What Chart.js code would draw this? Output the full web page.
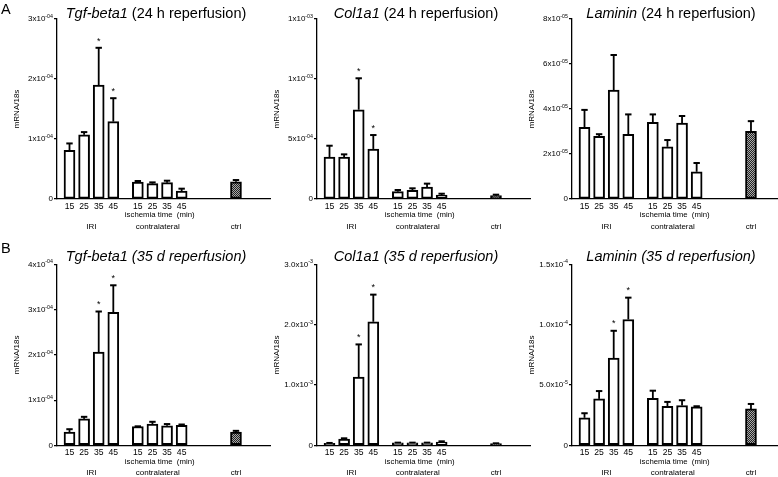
<!DOCTYPE html>
<html>
<head>
<meta charset="utf-8">
<script src="https://cdn.jsdelivr.net/npm/chart.js@4.4.1/dist/chart.umd.min.js"></script>
<style>
  html, body { margin: 0; padding: 0; background: #fff; overflow: hidden; }
  #wrap { position: relative; width: 778px; height: 477px; }
  canvas { position: absolute; }
</style>
</head>
<body>
<div id="wrap"></div>
<script>
const FONT = "'Liberation Sans', Arial, sans-serif";

const times = ["15", "25", "35", "45"];
const groupNames = ["IRI", "contralateral", "ctrl"];
const xTitle = "ischemia time  (min)";
const yTitle = "mRNA/18s";

// A: 24 h reperfusion (order: IRI 15-45, contralateral 15-45, ctrl)
const tgf24Mean = [0.81e-4, 1.07e-4, 1.90e-4, 1.29e-4, 0.283e-4, 0.255e-4, 0.272e-4, 0.133e-4, 0.288e-4];
const tgf24Sem = [0.116e-4, 0.045e-4, 0.62e-4, 0.39e-4, 0.017e-4, 0.022e-4, 0.033e-4, 0.039e-4, 0.028e-4];
const tgf24Sig = [0, 0, 1, 1, 0, 0, 0, 0, 0];
const tgf24Ticks = [0, 1e-4, 2e-4, 3e-4];
const tgf24TickLabels = [["0", ""], ["1x10", "-04"], ["2x10", "-04"], ["3x10", "-04"]];

const col24Mean = [0.35e-3, 0.35e-3, 0.744e-3, 0.417e-3, 0.061e-3, 0.072e-3, 0.10e-3, 0.033e-3, 0.028e-3];
const col24Sem = [0.094e-3, 0.022e-3, 0.262e-3, 0.116e-3, 0.014e-3, 0.017e-3, 0.028e-3, 0.011e-3, 0.008e-3];
const col24Sig = [0, 0, 1, 1, 0, 0, 0, 0, 0];
const col24Ticks = [0, 5e-4, 1e-3, 1.5e-3];
const col24TickLabels = [["0", ""], ["5x10", "-04"], ["1x10", "-03"], ["1x10", "-03"]];

const lam24Mean = [3.19e-5, 2.79e-5, 4.84e-5, 2.87e-5, 3.41e-5, 2.32e-5, 3.37e-5, 1.21e-5, 3.01e-5];
const lam24Sem = [0.77e-5, 0.09e-5, 1.56e-5, 0.89e-5, 0.35e-5, 0.30e-5, 0.32e-5, 0.39e-5, 0.45e-5];
const lam24Sig = [0, 0, 0, 0, 0, 0, 0, 0, 0];
const lam24Ticks = [0, 2e-5, 4e-5, 6e-5, 8e-5];
const lam24TickLabels = [["0", ""], ["2x10", "-05"], ["4x10", "-05"], ["6x10", "-05"], ["8x10", "-05"]];

// B: 35 d reperfusion
const tgf35Mean = [0.29e-4, 0.585e-4, 2.06e-4, 2.94e-4, 0.415e-4, 0.467e-4, 0.43e-4, 0.444e-4, 0.29e-4];
const tgf35Sem = [0.066e-4, 0.045e-4, 0.90e-4, 0.60e-4, 0.005e-4, 0.053e-4, 0.04e-4, 0.016e-4, 0.03e-4];
const tgf35Sig = [0, 0, 1, 1, 0, 0, 0, 0, 0];
const tgf35Ticks = [0, 1e-4, 2e-4, 3e-4, 4e-4];
const tgf35TickLabels = [["0", ""], ["1x10", "-04"], ["2x10", "-04"], ["3x10", "-04"], ["4x10", "-04"]];

const col35Mean = [0.033e-3, 0.105e-3, 1.133e-3, 2.05e-3, 0.039e-3, 0.039e-3, 0.039e-3, 0.055e-3, 0.028e-3];
const col35Sem = [0.006e-3, 0.011e-3, 0.541e-3, 0.45e-3, 0.005e-3, 0.005e-3, 0.005e-3, 0.011e-3, 0.005e-3];
const col35Sig = [0, 0, 1, 1, 0, 0, 0, 0, 0];
const col35Ticks = [0, 1e-3, 2e-3, 3e-3];
const col35TickLabels = [["0", ""], ["1.0x10", "-3"], ["2.0x10", "-3"], ["3.0x10", "-3"]];

const lam35Mean = [2.28e-5, 3.85e-5, 7.23e-5, 10.44e-5, 3.9e-5, 3.24e-5, 3.3e-5, 3.19e-5, 3.02e-5];
const lam35Sem = [0.38e-5, 0.65e-5, 2.27e-5, 1.81e-5, 0.63e-5, 0.36e-5, 0.44e-5, 0.05e-5, 0.41e-5];
const lam35Sig = [0, 0, 1, 1, 0, 0, 0, 0, 0];
const lam35Ticks = [0, 5e-5, 1e-4, 1.5e-4];
const lam35TickLabels = [["0", ""], ["5.0x10", "-5"], ["1.0x10", "-4"], ["1.5x10", "-4"]];

// layout
const colLeft = [0, 260, 515];
const rows = [
    { top: 0, h: 240, padTop: 19, zero: 199, titleY: 18, letterY: 13.5, letter: "A", rest: " (24 h reperfusion)", italicAll: false },
    { top: 240, h: 237, padTop: 24.5, zero: 205.3, titleY: 20.7, letterY: 12.7, letter: "B", rest: " (35 d reperfusion)", italicAll: true },
];
const groupStart = [0, 4.68, 11.4];
const xMin = -0.856, xMax = 13.73;

const panels = [
    { row: 0, col: 0, gene: "Tgf-beta1", mean: tgf24Mean, sem: tgf24Sem, sig: tgf24Sig, ticks: tgf24Ticks, tickLabels: tgf24TickLabels },
    { row: 0, col: 1, gene: "Col1a1", mean: col24Mean, sem: col24Sem, sig: col24Sig, ticks: col24Ticks, tickLabels: col24TickLabels },
    { row: 0, col: 2, gene: "Laminin", mean: lam24Mean, sem: lam24Sem, sig: lam24Sig, ticks: lam24Ticks, tickLabels: lam24TickLabels },
    { row: 1, col: 0, gene: "Tgf-beta1", mean: tgf35Mean, sem: tgf35Sem, sig: tgf35Sig, ticks: tgf35Ticks, tickLabels: tgf35TickLabels },
    { row: 1, col: 1, gene: "Col1a1", mean: col35Mean, sem: col35Sem, sig: col35Sig, ticks: col35Ticks, tickLabels: col35TickLabels },
    { row: 1, col: 2, gene: "Laminin", mean: lam35Mean, sem: lam35Sem, sig: lam35Sig, ticks: lam35Ticks, tickLabels: lam35TickLabels },
];

// checkered fill for ctrl bars
const pc = document.createElement("canvas");
pc.width = 2; pc.height = 2;
const pctx = pc.getContext("2d");
pctx.fillStyle = "#aaa"; pctx.fillRect(0, 0, 2, 2);
pctx.fillStyle = "#222"; pctx.fillRect(0, 0, 1, 1); pctx.fillRect(1, 1, 1, 1);
const hatch = pctx.createPattern(pc, "repeat");

function barPositions() {
    const pos = [];
    times.forEach((t, i) => pos.push(groupStart[0] + i));
    times.forEach((t, i) => pos.push(groupStart[1] + i));
    pos.push(groupStart[2]);
    return pos;
}

const decor = {
    id: "decor",
    afterDatasetsDraw(chart, args, o) {
        const { ctx, chartArea } = chart;
        const ys = chart.scales.y;
        const bars = chart.getDatasetMeta(0).data;
        const zero = ys.getPixelForValue(0);
        const row = rows[o.row];
        ctx.save();
        ctx.strokeStyle = "#000";
        ctx.fillStyle = "#000";

        // error bars + asterisks
        o.mean.forEach((m, i) => {
            const x = bars[i].x;
            const yTop = ys.getPixelForValue(m);
            const yErr = ys.getPixelForValue(m + o.sem[i]);
            ctx.lineWidth = 1.8;
            ctx.beginPath(); ctx.moveTo(x, yTop); ctx.lineTo(x, yErr); ctx.stroke();
            ctx.lineWidth = 2;
            ctx.beginPath(); ctx.moveTo(x - 3.2, yErr); ctx.lineTo(x + 3.2, yErr); ctx.stroke();
            if (o.sig[i]) {
                ctx.font = "9px " + FONT;
                ctx.textAlign = "center";
                ctx.textBaseline = "alphabetic";
                ctx.fillText("*", x, yErr - 4.3);
            }
        });

        // y tick labels with superscript exponent
        const right = chartArea.left - 4;
        o.ticks.forEach((v, i) => {
            const y = ys.getPixelForValue(v);
            const [base, sup] = o.tickLabels[i];
            ctx.font = "5.3px " + FONT;
            const sw = sup ? ctx.measureText(sup).width : 0;
            ctx.font = "8px " + FONT;
            const bw = ctx.measureText(base).width;
            ctx.textAlign = "left";
            ctx.textBaseline = "middle";
            ctx.fillText(base, right - sw - bw, y);
            if (sup) {
                ctx.font = "5.3px " + FONT;
                ctx.fillText(sup, right - sw, y - 2.6);
            }
        });

        // x tick labels and group labels
        ctx.textAlign = "center";
        ctx.textBaseline = "middle";
        ctx.font = "8.6px " + FONT;
        for (let i = 0; i < 8; i++) {
            ctx.fillText(times[i % 4], bars[i].x, zero + 7.3);
        }
        const c1 = (bars[0].x + bars[3].x) / 2;
        const c2 = (bars[4].x + bars[7].x) / 2;
        ctx.font = "7.8px " + FONT;
        ctx.fillText(xTitle, c2, zero + 16.3);
        ctx.font = "8px " + FONT;
        ctx.fillText(groupNames[0], c1, zero + 27.4);
        ctx.fillText(groupNames[1], c2 - 2, zero + 27.4);
        ctx.fillText(groupNames[2], bars[8].x, zero + 27.4);

        // y title
        ctx.save();
        ctx.translate(17, (chartArea.top + chartArea.bottom) / 2);
        ctx.rotate(-Math.PI / 2);
        ctx.font = "8px " + FONT;
        ctx.fillText(yTitle, 0, 0);
        ctx.restore();

        // panel title: italic gene name
        ctx.textBaseline = "alphabetic";
        ctx.textAlign = "left";
        const fi = "italic 14.5px " + FONT;
        const fr = (row.italicAll ? "italic " : "") + "14.5px " + FONT;
        ctx.font = fi;
        const gw = ctx.measureText(o.gene).width;
        ctx.font = fr;
        const rw = ctx.measureText(row.rest).width;
        const x0 = 156 - (gw + rw) / 2;
        ctx.font = fi;
        ctx.fillText(o.gene, x0, row.titleY);
        ctx.font = fr;
        ctx.fillText(row.rest, x0 + gw, row.titleY);

        // panel letter
        if (o.col === 0) {
            ctx.font = "14.5px " + FONT;
            ctx.fillText(row.letter, 1, row.letterY);
        }
        ctx.restore();
    },
};

const wrap = document.getElementById("wrap");
const positions = barPositions();

panels.forEach((p) => {
    const row = rows[p.row];
    const cv = document.createElement("canvas");
    cv.width = 272;
    cv.height = row.h;
    cv.style.left = colLeft[p.col] + "px";
    cv.style.top = row.top + "px";
    wrap.appendChild(cv);

    const colors = p.mean.map((v, i) => (i === 8 ? hatch : "#fff"));

    new Chart(cv.getContext("2d"), {
        type: "bar",
        data: {
            datasets: [
                {
                    data: p.mean.map((v, i) => ({ x: positions[i], y: v })),
                    backgroundColor: colors,
                    borderColor: "#000",
                    borderWidth: 2,
                    borderSkipped: false,
                    barThickness: 11,
                },
            ],
        },
        options: {
            responsive: false,
            animation: false,
            devicePixelRatio: 1,
            layout: { padding: { left: 0, top: row.padTop, right: 2, bottom: 0 } },
            plugins: {
                legend: { display: false },
                tooltip: { enabled: false },
                decor: { row: p.row, col: p.col, gene: p.gene, mean: p.mean, sem: p.sem, sig: p.sig, ticks: p.ticks, tickLabels: p.tickLabels },
            },
            scales: {
                x: {
                    type: "linear",
                    offset: false,
                    min: xMin,
                    max: xMax,
                    ticks: { display: false },
                    grid: { display: false, offset: false },
                    border: { display: true, color: "#000", width: 1.3 },
                    afterFit: (s) => { s.height = row.h - row.zero; },
                },
                y: {
                    min: 0,
                    max: p.ticks[p.ticks.length - 1],
                    afterBuildTicks: (s) => { s.ticks = p.ticks.map((v) => ({ value: v })); },
                    ticks: { display: false },
                    grid: { display: true, drawOnChartArea: false, drawTicks: true, tickLength: 3, color: "#000", lineWidth: 1.2 },
                    border: { display: true, color: "#000", width: 1.3 },
                    afterFit: (s) => { s.width = 57; },
                },
            },
        },
        plugins: [decor],
    });
});
</script>
</body>
</html>
